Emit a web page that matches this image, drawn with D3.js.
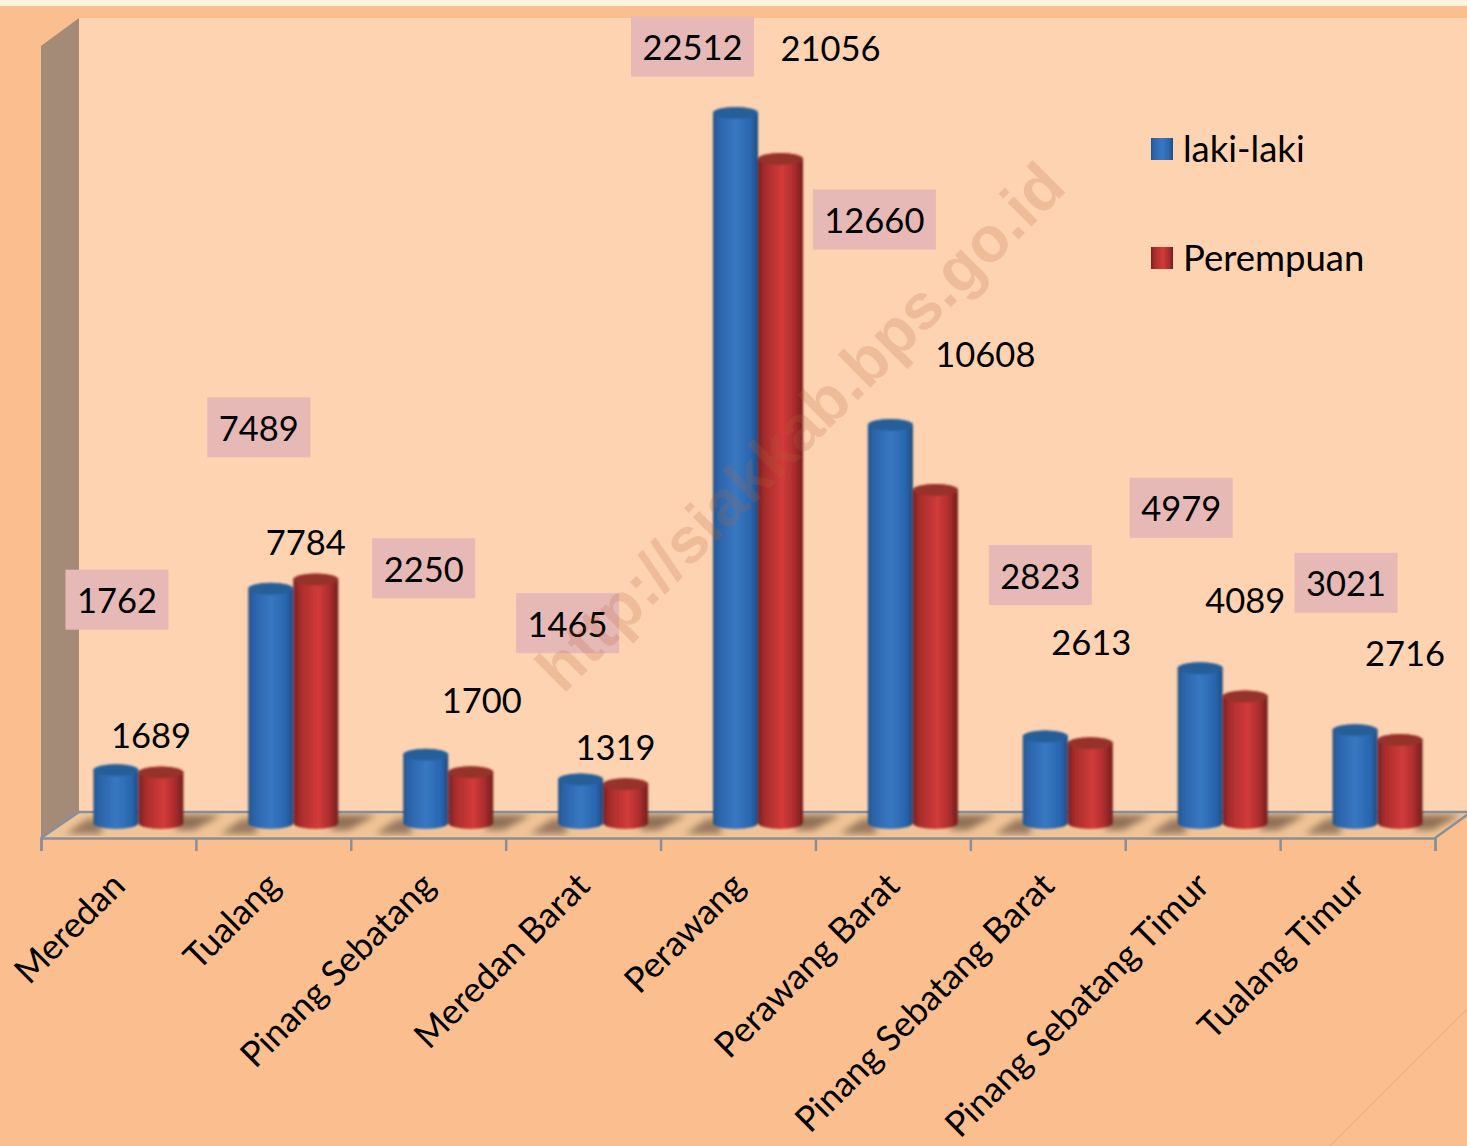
<!DOCTYPE html>
<html>
<head>
<meta charset="utf-8">
<script src="https://cdn.jsdelivr.net/npm/d3@7"></script>
<style>
  html, body { margin: 0; padding: 0; background: #fbbf8f; }
  svg { display: block; }
  text { font-family: Lato, sans-serif; fill: #000; }
</style>
</head>
<body>
<svg id="chart"></svg>
<script>
const categories = ["Meredan", "Tualang", "Pinang Sebatang", "Meredan Barat", "Perawang",
                    "Perawang Barat", "Pinang Sebatang Barat", "Pinang Sebatang Timur", "Tualang Timur"]
const lakiLaki = [1762, 7489, 2250, 1465, 22512, 12660, 2823, 4979, 3021]
const perempuan = [1689, 7784, 1700, 1319, 21056, 10608, 2613, 4089, 2716]
const seriesNames = ["laki-laki", "Perempuan"]

// the data labels sit away from their bars, these are the shifts from the bar top
const lakiShiftX = [1, -12, -2, -13, -43, -16, -5, -19, -9]
const lakiShiftY = [-169, -160, -185, -155, -65, -204, -160, -159, -146]
const perempuanShiftX = [-10, -10, 11, -10, 50, 50, 1, 0, 5]
const perempuanShiftY = [-37, -37, -71, -36, -110, -135, -100, -96, -86]

const width = 1467
const height = 1146
const depthX = 38
const depthY = 26
const axisLeft = 41
const axisRight = 1435
const axisY = 838
const wallTop = 46
const barWidth = 45
const barBase = 823
const ry = 6

const svg = d3.select("#chart").attr("width", width).attr("height", height)
const defs = svg.append("defs")

function cylinderGradient(id, stops) {
  const g = defs.append("linearGradient").attr("id", id)
  stops.forEach(s => g.append("stop").attr("offset", s[0]).attr("stop-color", s[1]))
}
cylinderGradient("blueBar", [[0, "#25517f"], [0.1, "#2a62a8"], [0.5, "#3878c2"], [0.85, "#2865ad"], [1, "#1f4a7c"]])
cylinderGradient("redBar", [[0, "#74211f"], [0.14, "#a62c2c"], [0.55, "#d23b3a"], [0.82, "#a92c2d"], [1, "#6f1f1e"]])
defs.append("filter").attr("id", "soft").append("feGaussianBlur").attr("stdDeviation", 3.5)
defs.append("filter").attr("id", "edge").append("feGaussianBlur").attr("stdDeviation", 1)

const x0 = d3.scaleBand().domain(categories).range([axisLeft, axisRight])
const x1 = d3.scaleBand().domain(seriesNames).range([0, barWidth * 2])
const y = d3.scaleLinear().domain([0, 22512]).range([826, 113])
const barX = (cat, name) => x0(cat) + x0.bandwidth() / 2 + depthX / 2 + 1 - barWidth + x1(name) + barWidth / 2

// background
svg.append("rect").attr("width", width).attr("height", height).attr("fill", "#fbbf8f")
svg.append("rect").attr("width", width).attr("height", 6).attr("fill", "#fdf3dc")
svg.append("line").attr("x1", 1330).attr("y1", 1146).attr("x2", 1467).attr("y2", 1009)
   .attr("stroke", "#eeb182").attr("stroke-width", 1.5)

// back wall, side wall, floor
svg.append("rect").attr("x", axisLeft + depthX).attr("y", wallTop - depthY - 2)
   .attr("width", width - axisLeft - depthX).attr("height", axisY - depthY - wallTop + depthY + 2)
   .attr("fill", "#fdd3b1")
svg.append("path")
   .attr("d", d3.line()([[axisLeft, wallTop], [axisLeft + depthX, wallTop - depthY - 2],
                         [axisLeft + depthX, axisY - depthY], [axisLeft, axisY]]))
   .attr("fill", "#a48b77")
svg.append("path")
   .attr("d", d3.line()([[axisLeft, axisY], [axisLeft + depthX, axisY - depthY],
                         [width, axisY - depthY], [axisRight, axisY]]))
   .attr("fill", "#f0c496")

// bar shadows on the floor
const shadows = svg.append("g").attr("filter", "url(#soft)")
shadows.selectAll("path.right")
   .data(categories)
   .join("path")
   .attr("class", "right")
   .attr("d", d => {
     const right = barX(d, seriesNames[1]) + barWidth / 2
     return d3.line()([[right - 8, 830], [right + 10, 830], [right + 38, 815], [right - 4, 815]])
   })
   .attr("fill", "#8f7057")
shadows.selectAll("path.left")
   .data(categories)
   .join("path")
   .attr("class", "left")
   .attr("d", d => {
     const left = barX(d, seriesNames[0]) - barWidth / 2
     return d3.line()([[left - 28, 834], [left + 8, 834], [left + 8, 819], [left - 6, 819]])
   })
   .attr("fill", "#98785f")

svg.append("line").attr("x1", axisLeft + depthX).attr("y1", axisY - depthY)
   .attr("x2", width).attr("y2", axisY - depthY)
   .attr("stroke", "#87909a").attr("stroke-width", 2.5)
svg.append("line").attr("x1", axisRight).attr("y1", axisY)
   .attr("x2", width).attr("y2", axisY - depthY + 3)
   .attr("stroke", "#87909a").attr("stroke-width", 2.5)
svg.append("line").attr("x1", axisLeft).attr("y1", axisY)
   .attr("x2", axisLeft + depthX).attr("y2", axisY - depthY)
   .attr("stroke", "#87909a").attr("stroke-width", 2.5)

// axis, ticks on the band edges
const tickScale = d3.scalePoint().domain(d3.range(categories.length + 1)).range([axisLeft, axisRight])
const axis = svg.append("g")
                .attr("transform", `translate(0,${axisY})`)
                .call(d3.axisBottom(tickScale).tickSize(13).tickFormat(""))
axis.selectAll("path,line").attr("stroke", "#87909a").attr("stroke-width", 2.5)

function cylinder(cx, top) {
  const r = barWidth / 2
  return `M${cx - r},${top}L${cx - r},${barBase}A${r},${ry} 0 0 0 ${cx + r},${barBase}L${cx + r},${top}A${r},${ry} 0 0 0 ${cx - r},${top}Z`
}
function cap(cx, top) {
  const r = barWidth / 2
  return `M${cx - r},${top}A${r},${ry} 0 0 1 ${cx + r},${top}A${r},${ry} 0 0 1 ${cx - r},${top}Z`
}

const seriesValues = [lakiLaki, perempuan]
const fills = ["url(#blueBar)", "url(#redBar)"]
const capFills = ["#285f98", "#97302c"]

// bars
const groups = svg.append("g").selectAll("g")
                  .data(categories)
                  .join("g")
groups.each(function(cat, i) {
  const g = d3.select(this).attr("filter", "url(#edge)")
  seriesNames.forEach((name, s) => {
    const cx = barX(cat, name)
    const top = y(seriesValues[s][i])
    g.append("path").attr("d", cylinder(cx, top)).attr("fill", fills[s])
    g.append("path").attr("d", cap(cx, top)).attr("fill", capFills[s])
  })
})

// data labels
const labelSize = 34.5
categories.forEach((cat, i) => {
  const cxL = barX(cat, seriesNames[0]) + lakiShiftX[i]
  const cyL = y(lakiLaki[i]) + lakiShiftY[i]
  const boxW = lakiLaki[i] >= 10000 ? 123 : 103
  svg.append("rect").attr("x", cxL - boxW / 2).attr("y", cyL - 31.5)
     .attr("width", boxW).attr("height", 60).attr("fill", "#e6b8b6")
  svg.append("text").attr("x", cxL).attr("y", cyL).attr("dy", "0.35em")
     .attr("text-anchor", "middle").attr("font-size", labelSize).text(lakiLaki[i])
  svg.append("text")
     .attr("x", barX(cat, seriesNames[1]) + perempuanShiftX[i])
     .attr("y", y(perempuan[i]) + perempuanShiftY[i])
     .attr("dy", "0.35em").attr("text-anchor", "middle").attr("font-size", labelSize)
     .text(perempuan[i])
})

// category labels
svg.append("g").selectAll("text")
   .data(categories)
   .join("text")
   .attr("transform", d => `translate(${x0(d) + x0.bandwidth() / 2},${axisY + 41}) rotate(-45)`)
   .attr("text-anchor", "end")
   .attr("dy", "0.35em")
   .attr("font-size", 35.3)
   .text(d => d)

// legend
const legendY = d3.scalePoint().domain(seriesNames).range([149, 258])
seriesNames.forEach((name, s) => {
  svg.append("rect").attr("x", 1151).attr("y", legendY(name) - 11)
     .attr("width", 22).attr("height", 22).attr("fill", fills[s])
  svg.append("text").attr("x", 1183).attr("y", legendY(name)).attr("dy", "0.35em")
     .attr("font-size", 36.5).text(name)
})

// watermark goes over everything
svg.append("text")
   .attr("transform", "translate(563,695) rotate(-45)")
   .attr("font-size", 64)
   .attr("font-weight", 700)
   .style("font-family", "'Liberation Sans', sans-serif")
   .style("fill", "#b8643a")
   .attr("opacity", 0.2)
   .text("http://siakkab.bps.go.id")
</script>
</body>
</html>
